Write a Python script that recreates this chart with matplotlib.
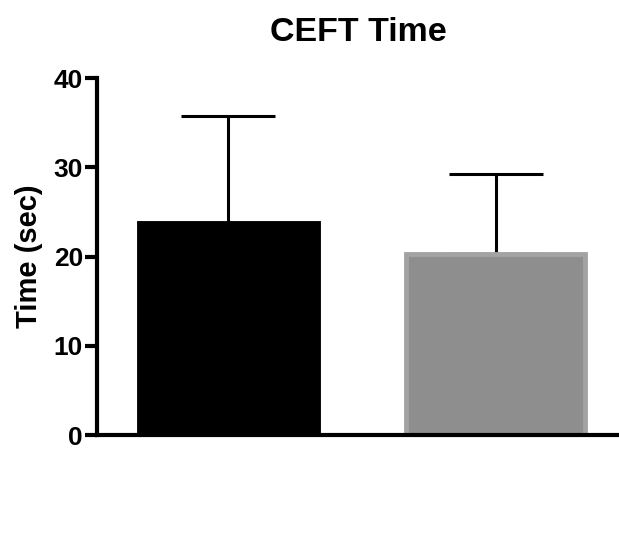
import numpy as np
import matplotlib
matplotlib.use("Agg")
import matplotlib.pyplot as plt

plt.rcParams['font.family'] = ['Liberation Sans', 'DejaVu Sans']
plt.rcParams['font.weight'] = 'bold'

groups = ["Group 1", "Group 2"]
means = [23.7, 20.3]
sds = [12.0, 8.9]
fills = ["#000000", "#8e8e8e"]
edges = ["#000000", "#a3a3a3"]

fig = plt.figure(figsize=(6.19, 5.54), dpi=100)
ax = fig.add_axes([0.1567, 0.2148, 0.8433, 0.6444])

x = np.arange(len(groups))
ax.bar(x, means, width=0.67, color=fills, edgecolor=edges, linewidth=3.5, zorder=2)
ax.errorbar(x, means, yerr=[np.zeros(len(sds)), sds], fmt='none', ecolor='black',
            elinewidth=2.2, capsize=33.5, capthick=2.2, zorder=1)

ax.set_xlim(-0.4925, 1.4625)
ax.set_ylim(0, 40)
ax.set_yticks([0, 10, 20, 30, 40])
ax.set_xticks([])
for s in ['top', 'right']:
    ax.spines[s].set_visible(False)
for s in ['left', 'bottom']:
    ax.spines[s].set_linewidth(3)
ax.tick_params(axis='y', width=3, length=9, labelsize=19, pad=1)
for lbl in ax.get_yticklabels():
    lbl.set_fontweight('bold')
ax.set_ylabel("Time (sec)", fontsize=21, fontweight='bold', labelpad=8)
ax.set_title("CEFT Time", fontsize=24.5, fontweight='bold', pad=27)

fig.savefig("out.png", dpi=100)
